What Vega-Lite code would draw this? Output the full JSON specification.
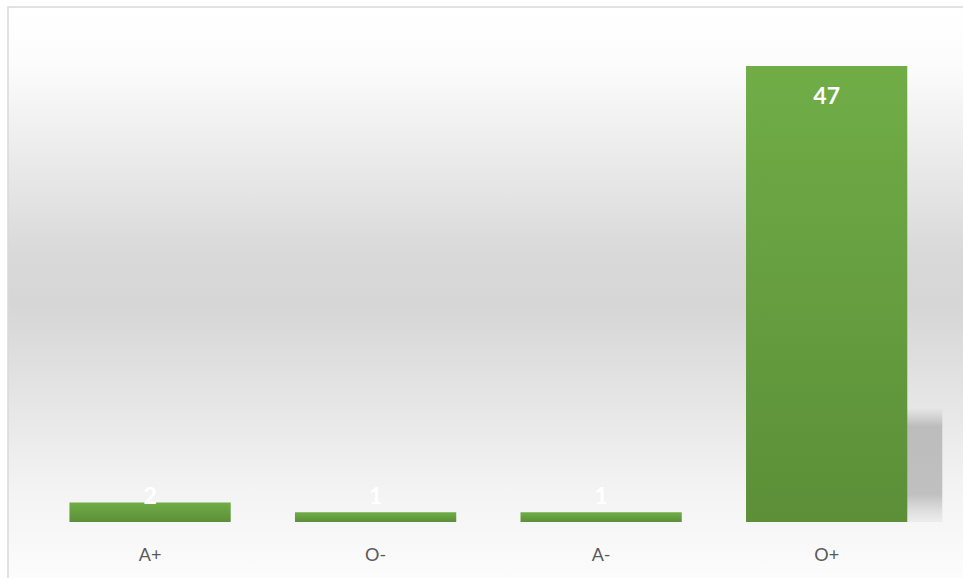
{
  "$schema": "https://vega.github.io/schema/vega-lite/v6.json",
  "width": 956,
  "height": 573,
  "padding": {"left": 8, "top": 7, "right": 0, "bottom": 0},
  "autosize": {"type": "pad"},
  "background": "#ffffff",
  "config": {
    "view": {
      "stroke": "#d9d9d9",
      "strokeWidth": 1.5,
      "fill": {
        "gradient": "linear",
        "x1": 0, "y1": 0, "x2": 0, "y2": 1,
        "stops": [
          {"offset": 0, "color": "#ffffff"},
          {"offset": 0.1, "color": "#fcfcfc"},
          {"offset": 0.43, "color": "#d9d9d9"},
          {"offset": 0.52, "color": "#d6d6d6"},
          {"offset": 0.84, "color": "#f3f3f3"},
          {"offset": 1, "color": "#fcfcfc"}
        ]
      }
    },
    "font": "Lato"
  },
  "data": {
    "values": [
      {"group": "A+", "count": 2},
      {"group": "O-", "count": 1},
      {"group": "A-", "count": 1},
      {"group": "O+", "count": 47}
    ]
  },
  "encoding": {
    "x": {
      "field": "group",
      "type": "nominal",
      "sort": ["A+", "O-", "A-", "O+"],
      "scale": {"domain": ["A+", "O-", "A-", "O+"], "paddingInner": 0.285, "paddingOuter": 0.262, "align": 0.52},
      "axis": {
        "title": null,
        "orient": "bottom",
        "offset": -34,
        "domain": false,
        "ticks": false,
        "grid": false,
        "labelPadding": 0,
        "labelAngle": 0,
        "labelBaseline": "top",
        "labelFontSize": 18,
        "labelColor": "#595959",
        "labelFont": "Lato"
      }
    }
  },
  "layer": [
    {
      "transform": [{"filter": "datum.count >= 10"}],
      "mark": {
        "type": "bar",
        "xOffset": 35,
        "color": {
          "gradient": "linear",
          "x1": 0, "y1": 0, "x2": 0, "y2": 1,
          "stops": [
            {"offset": 0, "color": "rgba(190,190,190,0)"},
            {"offset": 0.75, "color": "rgba(190,190,190,0)"},
            {"offset": 0.79, "color": "rgba(188,188,188,1)"},
            {"offset": 0.94, "color": "rgba(192,192,192,1)"},
            {"offset": 1, "color": "rgba(215,215,215,0.3)"}
          ]
        }
      },
      "encoding": {
        "y": {"field": "count", "type": "quantitative", "scale": {"domain": [-5.98, 53.08], "nice": false, "zero": false}, "axis": null}
      }
    },
    {
      "mark": {
        "type": "bar",
        "color": {
          "gradient": "linear",
          "x1": 0, "y1": 0, "x2": 0, "y2": 1,
          "stops": [
            {"offset": 0, "color": "#70ad47"},
            {"offset": 1, "color": "#5c8f38"}
          ]
        }
      },
      "encoding": {
        "y": {"field": "count", "type": "quantitative", "scale": {"domain": [-5.98, 53.08], "nice": false, "zero": false}, "axis": null}
      }
    },
    {
      "transform": [{"filter": "datum.count >= 10"}],
      "mark": {"type": "text", "baseline": "top", "dy": 20, "color": "#ffffff", "fontWeight": "bold", "fontSize": 23, "font": "Lato"},
      "encoding": {
        "y": {"field": "count", "type": "quantitative", "scale": {"domain": [-5.98, 53.08], "nice": false, "zero": false}, "axis": null},
        "text": {"field": "count", "type": "quantitative"}
      }
    },
    {
      "transform": [{"filter": "datum.count < 10"}],
      "mark": {"type": "text", "baseline": "top", "color": "#ffffff", "fontWeight": "bold", "fontSize": 23, "font": "Lato"},
      "encoding": {
        "y": {"datum": 3.75, "type": "quantitative", "scale": {"domain": [-5.98, 53.08], "nice": false, "zero": false}, "axis": null},
        "text": {"field": "count", "type": "quantitative"}
      }
    }
  ]
}
